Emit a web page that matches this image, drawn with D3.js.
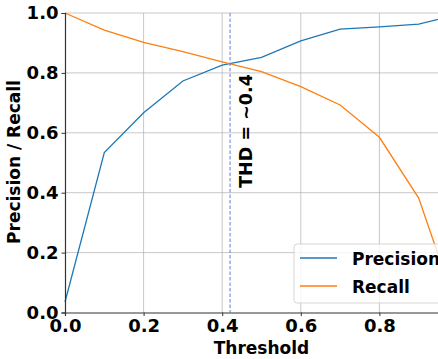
<!DOCTYPE html>
<html>
<head>
<meta charset="utf-8">
<script src="https://cdn.jsdelivr.net/npm/d3@7"></script>
<style>
    html, body { margin: 0; padding: 0; background: #fff; }
    svg { display: block; }
    text { font-family: "DejaVu Sans", sans-serif; font-weight: bold; fill: #000; }
</style>
</head>
<body>
<script>

var thresholds = [0.0, 0.1, 0.2, 0.3, 0.4, 0.5, 0.6, 0.7, 0.8, 0.9, 1.0];
var precision  = [0.035, 0.534, 0.667, 0.773, 0.826, 0.852, 0.907, 0.946, 0.954, 0.963, 0.995];
var recall     = [1.0, 0.943, 0.902, 0.871, 0.837, 0.804, 0.754, 0.693, 0.585, 0.382, 0.0];
var xTicks = [0.0, 0.2, 0.4, 0.6, 0.8];
var yTicks = [0.0, 0.2, 0.4, 0.6, 0.8, 1.0];
var thd = 0.42;
var seriesNames = ["Precision", "Recall"];

var W = 438, H = 359;
var plot = { left: 65, right: 458, top: 13, bottom: 312.5 };

var svg = d3.select("body").append("svg")
    .attr("width", W)
    .attr("height", H);

var x = d3.scaleLinear().domain([0, 1]).range([plot.left, plot.right]);
var y = d3.scaleLinear().domain([0, 1]).range([plot.bottom, plot.top]);

// grid
svg.append("g")
    .selectAll("line")
    .data(xTicks.slice(1))
    .enter().append("line")
        .attr("x1", d => x(d)).attr("x2", d => x(d))
        .attr("y1", plot.top).attr("y2", plot.bottom)
        .attr("stroke", "#b0b0b0")
        .attr("stroke-opacity", 0.7)
        .attr("stroke-width", 1);

svg.append("g")
    .selectAll("line")
    .data(yTicks.slice(1))
    .enter().append("line")
        .attr("x1", plot.left).attr("x2", plot.right)
        .attr("y1", d => y(d)).attr("y2", d => y(d))
        .attr("stroke", "#b0b0b0")
        .attr("stroke-opacity", 0.7)
        .attr("stroke-width", 1);

// series
var colors = ["#1f77b4", "#ff7f0e"];
var series = [precision, recall];

var line = d3.line()
    .x((d, i) => x(thresholds[i]))
    .y(d => y(d));

svg.append("g")
    .selectAll("path")
    .data(series)
    .enter().append("path")
        .attr("d", line)
        .attr("fill", "none")
        .attr("stroke", (d, i) => colors[i])
        .attr("stroke-width", 1.3);

// threshold marker
svg.append("line")
    .attr("x1", x(thd)).attr("x2", x(thd))
    .attr("y1", plot.top).attr("y2", plot.bottom)
    .attr("stroke", "#5b7fd3")
    .attr("stroke-width", 1)
    .attr("stroke-dasharray", "3.5,2");

svg.append("text")
    .attr("transform", "translate(" + (x(thd) + 22) + "," + 131 + ") rotate(-90)")
    .attr("text-anchor", "middle")
    .style("font-size", "17.5px")
    .text("THD = ~0.4");

// axes
var xAxis = d3.axisBottom(x).tickValues(xTicks).tickFormat(d3.format(".1f")).tickSize(3.5).tickPadding(3);
var yAxis = d3.axisLeft(y).tickValues(yTicks).tickFormat(d3.format(".1f")).tickSize(3.5).tickPadding(3);

var gx = svg.append("g")
    .attr("transform", "translate(0," + plot.bottom + ")")
    .call(xAxis);

var gy = svg.append("g")
    .attr("transform", "translate(" + plot.left + ",0)")
    .call(yAxis);

[gx, gy].forEach(function (g) {
    g.select(".domain").attr("stroke", "#333").attr("stroke-width", 1.2);
    g.selectAll(".tick line").attr("stroke", "#333").attr("stroke-width", 1);
    g.selectAll(".tick text")
        .attr("fill", "#000")
        .style("font-family", "DejaVu Sans")
        .style("font-weight", "bold")
        .style("font-size", "18px");
});

// axis titles
svg.append("text")
    .attr("x", (plot.left + plot.right) / 2)
    .attr("y", 354)
    .attr("text-anchor", "middle")
    .style("font-size", "17px")
    .text("Threshold");

svg.append("text")
    .attr("transform", "translate(20," + 162 + ") rotate(-90)")
    .attr("text-anchor", "middle")
    .style("font-size", "17px")
    .text("Precision / Recall");

// legend
var legend = svg.append("g");

legend.append("rect")
    .attr("x", 294).attr("y", 244)
    .attr("width", 180).attr("height", 59)
    .attr("rx", 3)
    .attr("fill", "#fff")
    .attr("fill-opacity", 0.8)
    .attr("stroke", "#cccccc")
    .attr("stroke-opacity", 0.8);

var items = legend.selectAll("g")
    .data(seriesNames)
    .enter().append("g")
        .attr("transform", (d, i) => "translate(0," + (258 + i * 28) + ")");

items.append("line")
    .attr("x1", 300).attr("x2", 337)
    .attr("stroke", (d, i) => colors[i])
    .attr("stroke-width", 1.3);

items.append("text")
    .attr("x", 352)
    .attr("y", 6.5)
    .style("font-size", "17px")
    .text(d => d);

</script>
</body>
</html>
